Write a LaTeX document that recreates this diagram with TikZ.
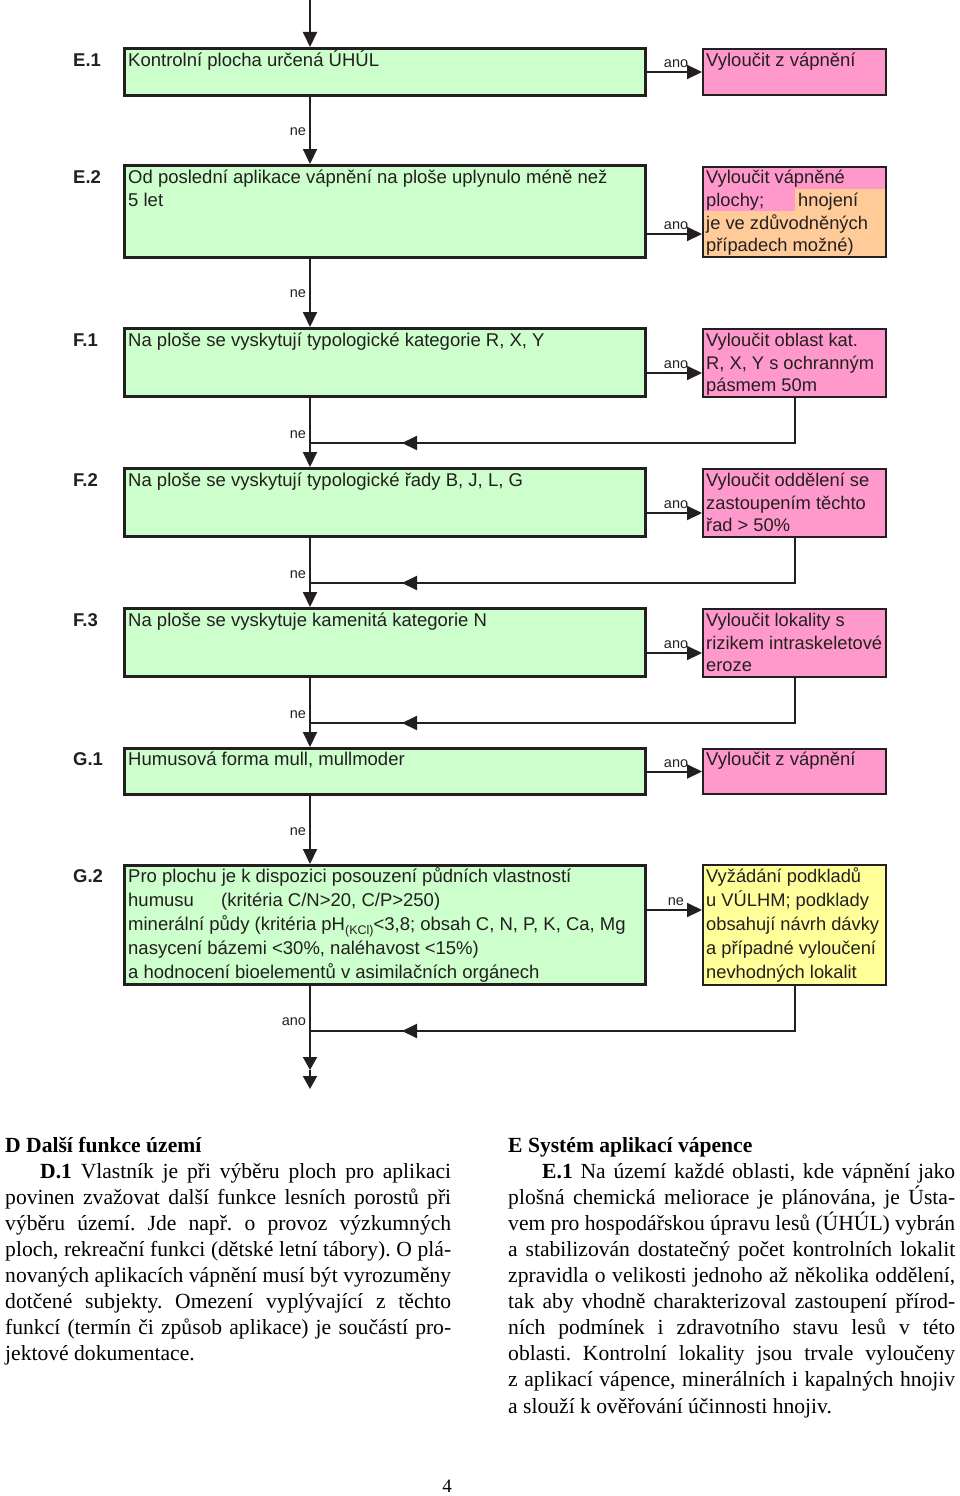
\documentclass[tikz,border=0pt]{standalone}
\usepackage{fontspec}
\setmainfont{Liberation Serif}
\newfontfamily\arialf{Liberation Sans}
\usetikzlibrary{arrows.meta,decorations.markings}
\definecolor{gfill}{HTML}{CCFFCC}
\definecolor{pfill}{HTML}{FF99CC}
\definecolor{ofill}{HTML}{FFCC99}
\definecolor{yfill}{HTML}{FFFF99}
\definecolor{ink}{HTML}{231F20}
\frenchspacing
\newcommand\jl[1]{\makebox[\linewidth][s]{#1}\par}
\newcommand\gtx[1]{\parbox[t]{520pt}{#1}}
\newcommand\rtx[1]{\parbox[t]{200pt}{#1}}
\begin{document}
\begin{tikzpicture}[x=1pt,y=-1pt,
 gbox/.style={draw=ink,fill=gfill,line width=3.4pt,inner sep=0pt,outer sep=1.7pt,minimum width=520.6pt},
 rbox/.style={draw=ink,line width=2pt,inner sep=0pt,outer sep=1pt,minimum width=183pt},
 arr/.style={draw=ink,line width=2pt,-{Triangle[length=15pt,width=14pt]}},
 arrb/.style={draw=ink,line width=2pt,-{Triangle[length=13pt,width=14pt]}},
 ln/.style={draw=ink,line width=2pt},
 retarrow/.style={ln,postaction={decorate},decoration={markings,mark=at position -92pt with {\arrow{Triangle[length=15pt,width=14pt]}}}},
 lab/.style={inner sep=0pt,font=\arialf\fontsize{14.5}{17}\selectfont,text=ink},
 btxt/.style={anchor=base west,inner sep=0pt,font=\arialf\fontsize{18.5}{22.6}\selectfont,text=ink},
 rowlab/.style={anchor=base west,inner sep=0pt,font=\arialf\bfseries\fontsize{18.5}{22}\selectfont,text=ink},
 coltxt/.style={anchor=base west,inner sep=0pt,font=\fontsize{21.6}{26.1}\selectfont,text=black},
]
\useasboundingbox (0,0) rectangle (960,1496);

% green boxes
\node[gbox,minimum height=46.6pt]  (e1) at (385,72) {};
\node[gbox,minimum height=91.6pt]  (e2) at (385,211.5) {};
\node[gbox,minimum height=67.6pt]  (e3) at (385,362.5) {};
\node[gbox,minimum height=67.6pt]  (e4) at (385,502.5) {};
\node[gbox,minimum height=67.6pt]  (e5) at (385,642.5) {};
\node[gbox,minimum height=45.6pt]  (e6) at (385,771.5) {};
\node[gbox,minimum height=118.6pt] (e7) at (385,925) {};

% right boxes
\node[rbox,fill=pfill,minimum height=46pt]  (r1) at (794.5,72) {};
\node[rbox,fill=ofill,minimum height=90pt]  (r2) at (794.5,212) {};
\fill[pfill] (704,168) rectangle (885,189);
\fill[pfill] (704,188.5) rectangle (795,211);
\node[rbox,fill=pfill,minimum height=68pt]  (r3) at (794.5,363) {};
\node[rbox,fill=pfill,minimum height=68pt]  (r4) at (794.5,503) {};
\node[rbox,fill=pfill,minimum height=68pt]  (r5) at (794.5,643) {};
\node[rbox,fill=pfill,minimum height=45pt]  (r6) at (794.5,771.5) {};
\node[rbox,fill=yfill,minimum height=120pt] (r7) at (794.5,925) {};

% row labels
\node[rowlab] (l1) at (73,66.7)  {E.1};
\node[rowlab] (l2) at (73,183.4) {E.2};
\node[rowlab] (l3) at (73,346.7) {F.1};
\node[rowlab] (l4) at (73,486.7) {F.2};
\node[rowlab] (l5) at (73,626.7) {F.3};
\node[rowlab] (l6) at (73,765.7) {G.1};
\node[rowlab] (l7) at (73,882.7) {G.2};

% green texts
\node[btxt] (t1) at (128,66.7) {Kontrolní plocha určená ÚHÚL};
\node[btxt,font=\arialf\fontsize{18.5}{23}\selectfont] (t2) at (128,183.4) {\gtx{Od poslední aplikace vápnění na ploše uplynulo méně než\\5 let}};
\node[btxt] (t3) at (128,346.7) {Na ploše se vyskytují typologické kategorie R, X, Y};
\node[btxt] (t4) at (128,486.7) {Na ploše se vyskytují typologické řady B, J, L, G};
\node[btxt] (t5) at (128,626.7) {Na ploše se vyskytuje kamenitá kategorie N};
\node[btxt] (t6) at (128,765.7) {Humusová forma mull, mullmoder};
\node[btxt,font=\arialf\fontsize{18.5}{24}\selectfont] (t7) at (128,882.7) {\gtx{Pro plochu je k dispozici posouzení půdních vlastností\\\makebox[93pt][l]{humusu}(kritéria C/N>20, C/P>250)\\minerální půdy (kritéria pH\raisebox{-3.5pt}{\fontsize{12.5}{13}\selectfont(KCl)}<3,8; obsah C, N, P, K, Ca, Mg\\nasycení bázemi <30\%, naléhavost <15\%)\\a hodnocení bioelementů v asimilačních orgánech}};

% right texts
\node[btxt] (s1) at (706,66.7) {Vyloučit z vápnění};
\node[btxt,font=\arialf\fontsize{18.3}{22.8}\selectfont] (s2) at (706,183.4) {\rtx{Vyloučit vápněné\\\makebox[92pt][l]{plochy;}hnojení\\je ve zdůvodněných\\případech možné)}};
\node[btxt,font=\arialf\fontsize{18.3}{22.5}\selectfont] (s3) at (706,346.7) {\rtx{Vyloučit oblast kat.\\R, X, Y s ochranným\\pásmem 50m}};
\node[btxt,font=\arialf\fontsize{18.3}{22.5}\selectfont] (s4) at (706,486.7) {\rtx{Vyloučit oddělení se\\zastoupením těchto\\řad > 50\%}};
\node[btxt,font=\arialf\fontsize{18.3}{22.5}\selectfont] (s5) at (706,626.7) {\rtx{Vyloučit lokality s\\rizikem intraskeletové\\eroze}};
\node[btxt] (s6) at (706,765.7) {Vyloučit z vápnění};
\node[btxt,font=\arialf\fontsize{18.3}{24}\selectfont] (s7) at (706,882.7) {\rtx{Vyžádání podkladů\\u VÚLHM; podklady\\obsahují návrh dávky\\a případné vyloučení\\nevhodných lokalit}};

% main column
\coordinate (col) at (310,0);
\coordinate (j3) at (310,443);
\coordinate (j4) at (310,583);
\coordinate (j5) at (310,723);
\coordinate (j7) at (310,1031);
\coordinate (m1) at (310,1070);
\coordinate (endp) at (310,1089);

\draw[arr] (col) -- (e1.north -| col);
\draw[arr] (e1.south -| col) -- node[lab,anchor=base east,pos=.582,xshift=-3pt]{ne} (e2.north -| col);
\draw[arr] (e2.south -| col) -- node[lab,anchor=base east,pos=.56,xshift=-3pt]{ne} (e3.north -| col);
\draw[arr] (e3.south -| col) -- node[lab,anchor=base east,pos=.584,xshift=-3pt]{ne} (e4.north -| col);
\draw[arr] (e4.south -| col) -- node[lab,anchor=base east,pos=.584,xshift=-3pt]{ne} (e5.north -| col);
\draw[arr] (e5.south -| col) -- node[lab,anchor=base east,pos=.584,xshift=-3pt]{ne} (e6.north -| col);
\draw[arr] (e6.south -| col) -- node[lab,anchor=base east,pos=.58,xshift=-3pt]{ne} (e7.north -| col);
\draw[ln] (e7.south -| col) -- node[lab,anchor=base east,pos=.88,xshift=-3pt]{ano} (j7);
\draw[arrb] (j7) -- (m1);
\draw[arrb] (m1) -- (endp);

% horizontal arrows
\coordinate (h2) at ([yshift=25pt]e2.south east);
\coordinate (h3) at ([yshift=25pt]e3.south east);
\coordinate (h4) at ([yshift=25pt]e4.south east);
\coordinate (h5) at ([yshift=25pt]e5.south east);
\coordinate (h7) at ([yshift=-46pt]e7.north east);
\draw[arr] (e1.east) -- node[lab,anchor=base west,pos=.29,yshift=4.5pt]{ano} (e1.east -| r1.west);
\draw[arr] (h2) -- node[lab,anchor=base west,pos=.29,yshift=4.5pt]{ano} (h2 -| r2.west);
\draw[arr] (h3) -- node[lab,anchor=base west,pos=.29,yshift=4.5pt]{ano} (h3 -| r3.west);
\draw[arr] (h4) -- node[lab,anchor=base west,pos=.29,yshift=4.5pt]{ano} (h4 -| r4.west);
\draw[arr] (h5) -- node[lab,anchor=base west,pos=.29,yshift=4.5pt]{ano} (h5 -| r5.west);
\draw[arr] (e6.east) -- node[lab,anchor=base west,pos=.29,yshift=4.5pt]{ano} (e6.east -| r6.west);
\draw[arr] (h7) -- node[lab,anchor=base west,pos=.36,yshift=5pt]{ne} (h7 -| r7.west);

% return lines
\draw[retarrow] (r3.south) |- (j3);
\draw[retarrow] (r4.south) |- (j4);
\draw[retarrow] (r5.south) |- (j5);
\draw[retarrow] (r7.south) |- (j7);

% text columns
\node[coltxt] (dcol) at (5,1152) {\parbox[t]{446pt}{\textbf{D Další funkce území}\par
\jl{\hspace*{35pt}\textbf{D.1} Vlastník je při výběru ploch pro aplikaci}
\jl{povinen zvažovat další funkce lesních porostů při}
\jl{výběru území. Jde např. o provoz výzkumných}
\jl{ploch, rekreační funkci (dětské letní tábory). O plá-}
\jl{novaných aplikacích vápnění musí být vyrozuměny}
\jl{dotčené subjekty. Omezení vyplývající z těchto}
\jl{funkcí (termín či způsob aplikace) je součástí pro-}
jektové dokumentace.}};
\node[coltxt] (ecol) at (508,1152) {\parbox[t]{447pt}{\textbf{E Systém aplikací vápence}\par
\jl{\hspace*{34pt}\textbf{E.1} Na území každé oblasti, kde vápnění jako}
\jl{plošná chemická meliorace je plánována, je Ústa-}
\jl{vem pro hospodářskou úpravu lesů (ÚHÚL) vybrán}
\jl{a stabilizován dostatečný počet kontrolních lokalit}
\jl{zpravidla o velikosti jednoho až několika oddělení,}
\jl{tak aby vhodně charakterizoval zastoupení přírod-}
\jl{ních podmínek i zdravotního stavu lesů v této}
\jl{oblasti. Kontrolní lokality jsou trvale vyloučeny}
\jl{z aplikací vápence, minerálních i kapalných hnojiv}
a slouží k ověřování účinnosti hnojiv.}};
\node[anchor=base,inner sep=0pt,font=\fontsize{19}{19}\selectfont] (pg) at (447,1492) {4};
\end{tikzpicture}
\end{document}
